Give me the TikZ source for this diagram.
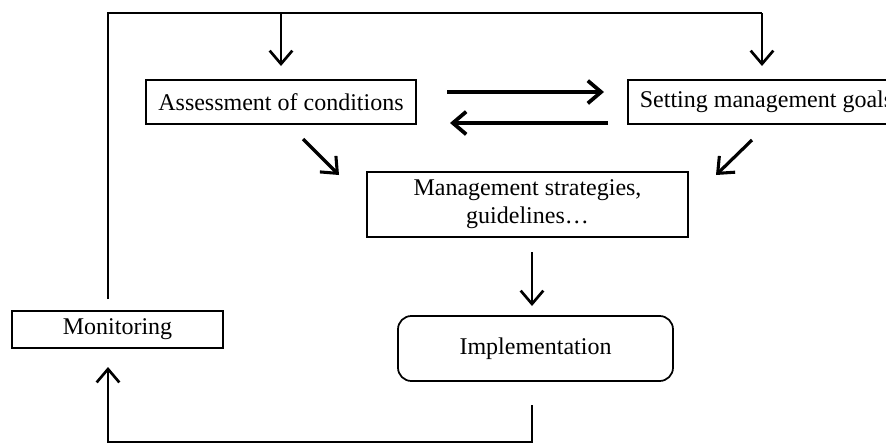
\documentclass[tikz,border=0pt]{standalone}
\usepackage{fontspec}
\setmainfont{Liberation Serif}
\usetikzlibrary{arrows.meta}
\begin{document}
\begin{tikzpicture}[x=0.75pt,y=-0.75pt,
  box/.style={draw,line width=1.3pt,inner sep=0pt,font=\fontsize{18}{21}\selectfont},
  arr/.style={-{Straight Barb[length=10pt,width=17pt,line width=2pt]},line width=2pt},
  thickarr/.style={-{Straight Barb[length=10pt,width=17pt,line width=2.8pt]},line width=3pt},
  diagarr/.style={-{Straight Barb[length=10pt,width=17pt,line width=2.3pt]},line width=2.4pt},
  link/.style={line width=2pt}]
\useasboundingbox (0,0) rectangle (886,444);
\node[box,minimum width=202.5pt,minimum height=33pt] (assess) at (281,102) {Assessment of conditions};
\node[box,minimum height=33pt,inner xsep=9pt,anchor=west] (setting) at (627,102) {Setting management goals};
\node[box,minimum width=240.75pt,minimum height=48.75pt,align=center] (mgmt) at (527.5,204.5) {Management strategies,\\guidelines…};
\node[box,minimum width=206.25pt,minimum height=48.75pt,rounded corners=10pt] (impl) at (535.5,348.5) {Implementation};
\node[box,minimum width=158.25pt,minimum height=27.75pt] (monitor) at (117.5,329.5) {Monitoring};
% free ends
\coordinate (mtop) at (108,299);
\coordinate (tl) at (108,13);
\coordinate (tr) at (762,13);
\coordinate (tm) at (281,13);
\coordinate (aend) at (281,66);
\coordinate (send) at (762,66);
\coordinate (r1) at (447,92);
\coordinate (r2) at (604,92);
\coordinate (l1) at (608,123);
\coordinate (l2) at (450,123);
\coordinate (dl1) at (303,139);
\coordinate (dl2) at (339,175);
\coordinate (dr1) at (752,140);
\coordinate (dr2) at (716,175);
\coordinate (d1) at (532,252);
\coordinate (d2) at (532,306);
\coordinate (b1) at (532,405);
\coordinate (b2) at (532,442);
\coordinate (b3) at (108,442);
\coordinate (b4) at (108,367);
% connectors
\draw[link] (mtop) -- (tl) -- (tr);
\draw[arr] (tr) -- (send);
\draw[arr] (tm) -- (aend);
\draw[thickarr] (r1) -- (r2);
\draw[thickarr] (l1) -- (l2);
\draw[diagarr] (dl1) -- (dl2);
\draw[diagarr] (dr1) -- (dr2);
\draw[arr] (d1) -- (d2);
\draw[arr] (b1) -- (b2) -- (b3) -- (b4);
\end{tikzpicture}
\end{document}
